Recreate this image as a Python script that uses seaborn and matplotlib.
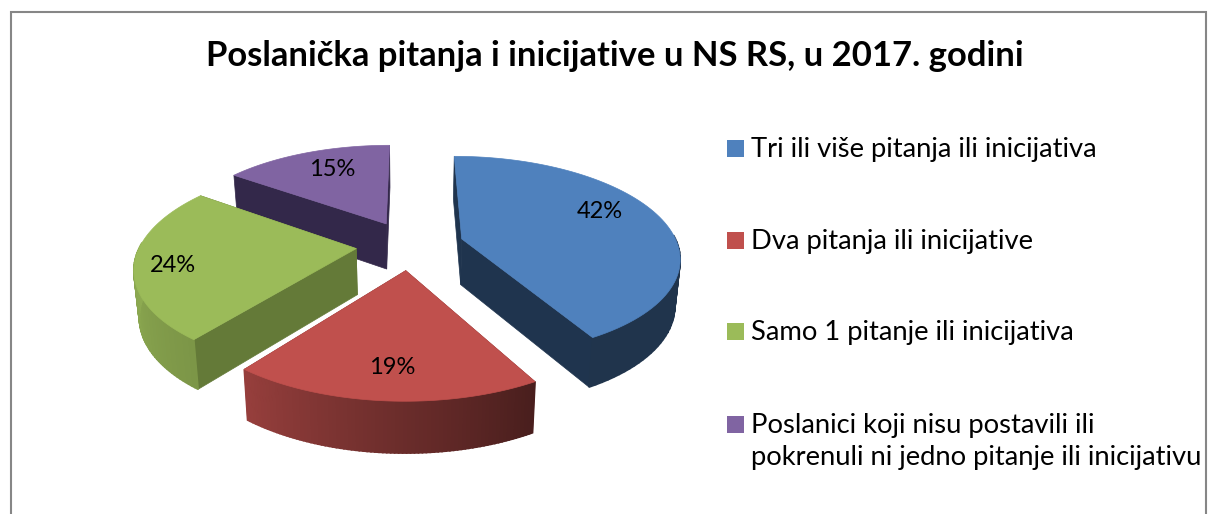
import numpy as np
import matplotlib.pyplot as plt
from matplotlib.patches import Rectangle
import seaborn as sns

title = 'Poslanička pitanja i inicijative u NS RS, u 2017. godini'
labels = ['Tri ili više pitanja ili inicijativa',
          'Dva pitanja ili inicijative',
          'Samo 1 pitanje ili inicijativa',
          'Poslanici koji nisu postavili ili\npokrenuli ni jedno pitanje ili inicijativu']
values = [41.9, 18.6, 24.4, 15.1]

colors = sns.color_palette(['#4f81bd', '#c0504d', '#9bbb59', '#8064a2'])
side_colors = ['#1f344e', '#7a3230', '#647a38', '#33284a']
# wall brightness at the start and at the end of each slice
wall_shade = [(0.40, 0.40), (0.38, 0.78), (0.8, 1.0), (0.4, 0.4)]
label_pos = [(600, 212), (392, 367), (173, 266), (332, 170)]
legend_y = [148, 240, 331, 424]
draw_order = [3, 2, 0, 1]

sns.set_theme(style='white')
plt.rcParams['font.family'] = ['Lato', 'DejaVu Sans']

fig = plt.figure(figsize=(12.09, 5.14), dpi=100)
ax = fig.add_axes([0, 0, 1, 1])
ax.set_xlim(0, 1209)
ax.set_ylim(514, 0)
ax.axis('off')

# ground plane -> picture, with a bit of perspective
cx, cy = 410, 245
rx, ry = 216, 98.5
persp = 0.17
depth = 46
explode = 0.25


def project(u, v, z=0):
    s = 1 / (1 + persp * v)
    x = cx + rx * u * s * (1 - 0.02 * z)
    y = cy - ry * v * s + depth * np.sqrt(s) * z
    return x, y


fracs = np.array(values) / np.sum(values)
edges = 90 - 360 * np.concatenate([[0], np.cumsum(fracs)])

for i in draw_order:
    theta = np.radians(np.linspace(edges[i], edges[i + 1], 80))
    mid = np.radians((edges[i] + edges[i + 1]) / 2)
    ou, ov = explode * np.cos(mid), explode * np.sin(mid)
    u = ou + np.cos(theta)
    v = ov + np.sin(theta)

    # flat cut faces
    for k in [0, -1]:
        x0, y0 = project(ou, ov)
        x1, y1 = project(u[k], v[k])
        x2, y2 = project(u[k], v[k], 1)
        x3, y3 = project(ou, ov, 1)
        ax.fill([x0, x1, x2, x3], [y0, y1, y2, y3], color=side_colors[i], lw=0.5)

    # outer wall in thin strips so that it can shade along the arc
    base = np.array(colors[i])
    shades = np.linspace(wall_shade[i][0], wall_shade[i][1], len(theta) - 1)
    for k, shade in enumerate(shades):
        # the back of the wall is hidden anyway
        if np.sin(theta[k]) > 0.05:
            continue
        x0, y0 = project(u[k:k + 2], v[k:k + 2])
        x1, y1 = project(u[k:k + 2], v[k:k + 2], 1)
        ax.fill(np.r_[x0, x1[::-1]], np.r_[y0, y1[::-1]], color=base * shade, lw=1.2)

    # top of the slice
    tx, ty = project(np.r_[ou, u], np.r_[ov, v])
    ax.fill(tx, ty, color=colors[i], lw=0.5)

for value, pos in zip(values, label_pos):
    ax.text(pos[0], pos[1], f'{round(value)}%', ha='center', va='center', fontsize=17, color='black')

ax.text(615, 56, title, ha='center', va='center', fontsize=24.9, fontweight='bold', color='black')

# chart frame, open at the bottom
ax.plot([11, 11, 1206, 1206], [514, 12, 12, 514], color='#868686', lw=1.5, solid_joinstyle='miter')

# legend rows, the long label keeps its square on the first line
for color, label, y in zip(colors, labels, legend_y):
    ax.add_patch(Rectangle((727, y - 8.5), 17, 17, facecolor=color, edgecolor='none'))
    ax.text(751, y - 11, label, ha='left', va='top', fontsize=19.7, color='black', linespacing=1.33)

plt.savefig('out.png', dpi=100)
